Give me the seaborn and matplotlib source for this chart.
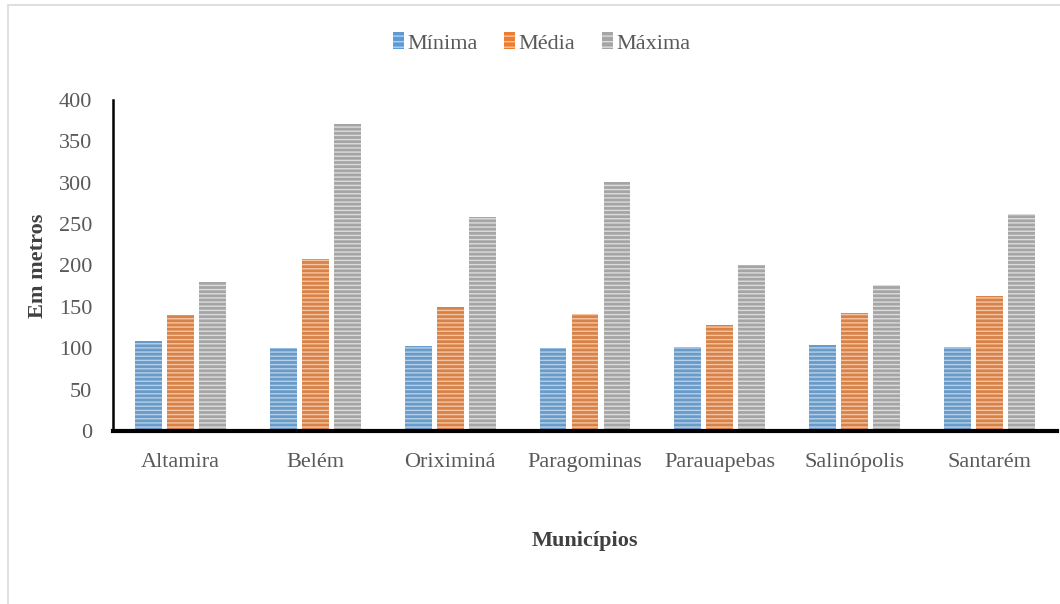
import matplotlib
matplotlib.use("Agg")
import matplotlib.pyplot as plt
from matplotlib.patches import Rectangle, Patch
import seaborn as sns
import pandas as pd

municipios = ["Altamira", "Belém", "Oriximiná", "Paragominas",
              "Parauapebas", "Salinópolis", "Santarém"]
minima = [109, 100, 103, 100, 101, 104, 101]
media = [140, 208, 150, 141, 128, 143, 163]
maxima = [180, 371, 259, 301, 201, 176, 262]
series = ["Mínima", "Média", "Máxima"]
y_ticks = [0, 50, 100, 150, 200, 250, 300, 350, 400]

colors = {"Mínima": "#5B9BD5", "Média": "#ED7D31", "Máxima": "#A5A5A5"}
stripes = {"Mínima": "#B4D0EC", "Média": "#F7C4A0", "Máxima": "#DCDCDC"}

df = pd.DataFrame({
    "Município": municipios * 3,
    "Série": [s for s in series for _ in municipios],
    "Valor": minima + media + maxima,
})

sns.set_theme(style="white")
plt.rcParams["font.family"] = ["Liberation Serif", "DejaVu Serif"]
plt.rcParams["hatch.linewidth"] = 1.0

FS = 16

fig = plt.figure(figsize=(10.6, 6.04), dpi=100)
ax = fig.add_axes([113 / 1060, 1 - 431 / 604, 944 / 1060, 331 / 604])

sns.barplot(data=df, x="Município", y="Valor", hue="Série",
            hue_order=series, order=municipios, palette=colors,
            width=0.711, gap=0.16, errorbar=None, ax=ax, legend=False)

# horizontal stripe texture on every bar
for cont, s in zip(ax.containers, series):
    for bar in cont:
        bar.set_hatch("----")
        bar.set_edgecolor(stripes[s])
        bar.set_linewidth(0)

ax.set_ylim(0, 400)
ax.set_xlim(-0.5, len(municipios) - 0.5)
ax.set_yticks(y_ticks)
ax.set_yticklabels([str(v) for v in y_ticks])

for side in ["top", "right"]:
    ax.spines[side].set_visible(False)
ax.spines["left"].set_color("black")
ax.spines["left"].set_linewidth(1.8)
ax.spines["bottom"].set_color("black")
ax.spines["bottom"].set_linewidth(3.0)
ax.spines["left"].set_zorder(5)
ax.spines["bottom"].set_zorder(5)

ax.tick_params(axis="both", which="both", length=0, labelsize=FS,
               labelcolor="#595959")
ax.tick_params(axis="x", pad=16)
ax.tick_params(axis="y", pad=15)

ax.set_xlabel("Municípios", fontsize=FS, fontweight="bold",
              color="#404040", labelpad=42)
ax.set_ylabel("Em metros", fontsize=FS, fontweight="bold",
              color="#404040", labelpad=8)

handles = [Patch(facecolor=colors[s], edgecolor=stripes[s], hatch="---",
                 linewidth=0) for s in series]
fig.legend(handles, series, loc="center", bbox_to_anchor=(0.511, 1 - 43 / 604),
           ncol=3, frameon=False, fontsize=FS, handlelength=0.5,
           handleheight=0.8, handletextpad=0.15, columnspacing=1.2,
           labelcolor="#595959")

# chart area frame
fig.patches.append(Rectangle((7.5 / 1060, -0.1), 1.2, 1 - 5.5 / 604 + 0.1,
                             transform=fig.transFigure, fill=False,
                             edgecolor="#D9D9D9", linewidth=1.2))

fig.savefig("out.png", dpi=100, facecolor="white")
